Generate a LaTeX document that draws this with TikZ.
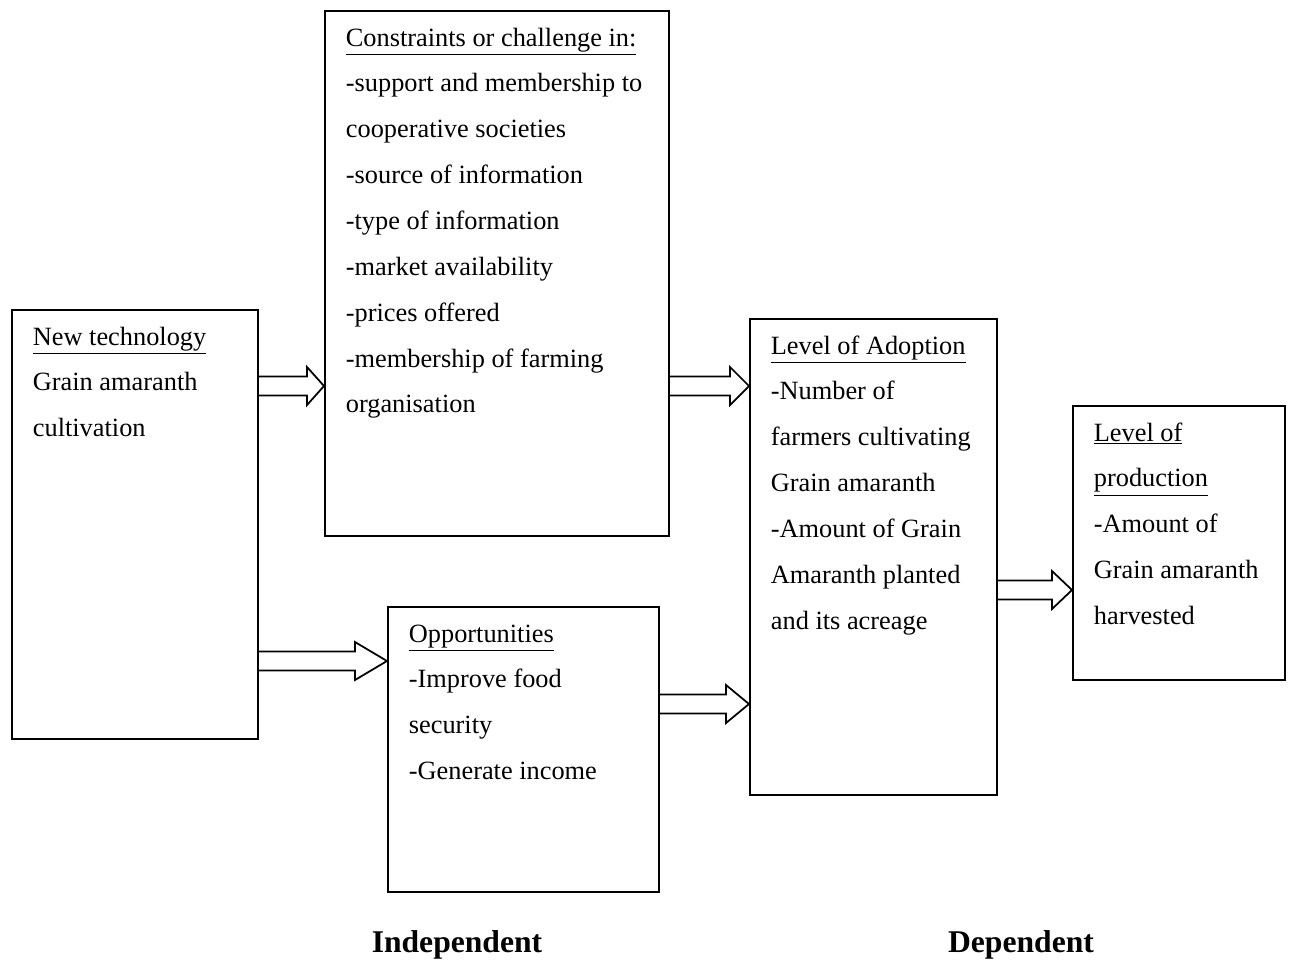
\documentclass[tikz,border=0pt]{standalone}
\usepackage{fontspec}
\setmainfont{Liberation Serif}
\usetikzlibrary{calc}

% box text: width, height, lines
\newcommand{\boxtext}[3]{\parbox[c][#2][t]{#1}{\raggedright\fontsize{15}{26.1}\selectfont\rule{0pt}{20pt}#3}}
% hollow block arrow: [head length] start, end
\newcommand{\blockarrow}[3][20]{%
  \draw[arr] ($(#2)+(0,-9.5)$) -- ($(#3)+(-#1,-9.5)$) -- ($(#3)+(-#1,-19)$) -- (#3)
    -- ($(#3)+(-#1,19)$) -- ($(#3)+(-#1,9.5)$) -- ($(#2)+(0,9.5)$);}

\begin{document}
\begin{tikzpicture}[x=0.02cm,y=-0.02cm,
  box/.style={draw, line width=1pt, anchor=north west, inner xsep=0.42cm, inner ysep=0pt},
  arr/.style={line width=1pt, line join=miter},
  footer/.style={font=\bfseries\fontsize{18}{22}\selectfont}]

  \useasboundingbox (0,0) rectangle (1291,965);

  \node[box] (tech) at (11,309) {\boxtext{4.08cm}{8.58cm}{%
    \underline{New technology}\\
    Grain amaranth\\
    cultivation}};

  \node[box] (constr) at (324,10) {\boxtext{6.04cm}{10.5cm}{%
    \underline{Constraints or challenge in:}\\
    -support and membership to\\
    cooperative societies\\
    -source of information\\
    -type of information\\
    -market availability\\
    -prices offered\\
    -membership of farming\\
    organisation}};

  \node[box] (opp) at (387,606) {\boxtext{4.58cm}{5.7cm}{%
    \underline{Opportunities}\\
    -Improve food\\
    security\\
    -Generate income}};

  \node[box] (adopt) at (749,318) {\boxtext{4.1cm}{9.52cm}{%
    \underline{Level of Adoption}\\
    -Number of\\
    farmers cultivating\\
    Grain amaranth\\
    -Amount of Grain\\
    Amaranth planted\\
    and its acreage}};

  \node[box] (prod) at (1072,405) {\boxtext{3.4cm}{5.48cm}{%
    \underline{Level of}\\
    \underline{production}\\
    -Amount of\\
    Grain amaranth\\
    harvested}};

  % connectors
  \coordinate (t1) at (tech.east |- 0,386);
  \coordinate (c1) at (constr.west |- t1);
  \coordinate (t2) at (tech.east |- 0,661);
  \coordinate (o1) at (opp.west |- t2);
  \coordinate (c2) at (constr.east |- 0,386);
  \coordinate (a1) at (adopt.west |- c2);
  \coordinate (o2) at (opp.east |- 0,704);
  \coordinate (a2) at (adopt.west |- o2);
  \coordinate (a3) at (adopt.east |- 0,590);
  \coordinate (p1) at (prod.west |- a3);

  \blockarrow[17]{t1}{c1}
  \blockarrow[32]{t2}{o1}
  \blockarrow[19]{c2}{a1}
  \blockarrow[23]{o2}{a2}
  \blockarrow[20]{a3}{p1}

  \node[footer] (indep) at (457,945) {Independent};
  \node[footer] (dep) at (1021,945) {Dependent};

\end{tikzpicture}
\end{document}
